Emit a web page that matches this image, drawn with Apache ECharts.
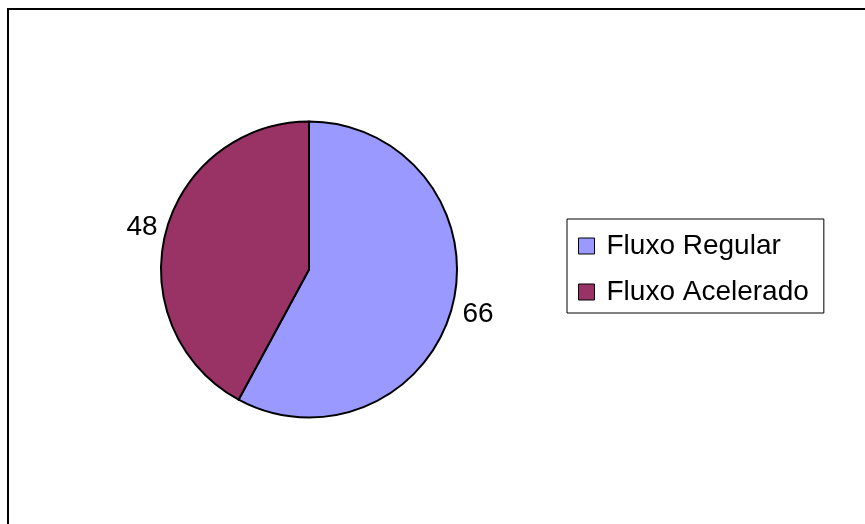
<!DOCTYPE html>
<html>
<head>
<meta charset="utf-8">
<script src="https://cdn.jsdelivr.net/npm/echarts@6/dist/echarts.min.js"></script>
<style>
html,body{margin:0;padding:0;background:#fff;}
#chart{width:865px;height:524px;}
</style>
</head>
<body>
<div id="chart"></div>
<script>
const categories = ['Fluxo Regular', 'Fluxo Acelerado'];
const values = [66, 48];
const colors = ['#9999FF', '#993366'];
const labelShift = [[5, 8], [-3, -6]];

const chart = echarts.init(document.getElementById('chart'), null, {renderer: 'canvas'});
const font = '"Liberation Sans", Arial, sans-serif';

chart.setOption({
  animation: false,
  backgroundColor: '#ffffff',
  color: colors,
  graphic: [{
    type: 'rect',
    shape: {x: 8, y: 9, width: 900, height: 600},
    style: {fill: 'none', stroke: '#000', lineWidth: 2},
    silent: true,
    z: -1
  }],
  legend: {
    orient: 'vertical',
    left: 567,
    top: 219,
    padding: [13, 15, 7, 11],
    itemGap: 18,
    itemWidth: 16,
    itemHeight: 16,
    icon: 'rect',
    borderColor: '#000',
    borderWidth: 1,
    backgroundColor: '#fff',
    itemStyle: {borderColor: '#000', borderWidth: 1},
    textStyle: {fontFamily: font, fontSize: 28, color: '#000', lineHeight: 28, padding: [0, 0, 0, 7]},
    data: categories
  },
  series: [{
    type: 'pie',
    center: [309, 269.5],
    radius: 148,
    startAngle: 90,
    clockwise: true,
    data: categories.map((c, i) => ({name: c, value: values[i]})),
    itemStyle: {borderColor: '#000', borderWidth: 2},
    label: {
      show: true,
      position: 'outside',
      formatter: '{c}',
      fontFamily: font,
      fontSize: 28,
      color: '#000',
      distanceToLabelLine: 5
    },
    labelLine: {show: false, length: 0, length2: 0},
    labelLayout: function (p) {
      return {dx: labelShift[p.dataIndex][0], dy: labelShift[p.dataIndex][1]};
    },
    emphasis: {disabled: true}
  }]
});
</script>
</body>
</html>
